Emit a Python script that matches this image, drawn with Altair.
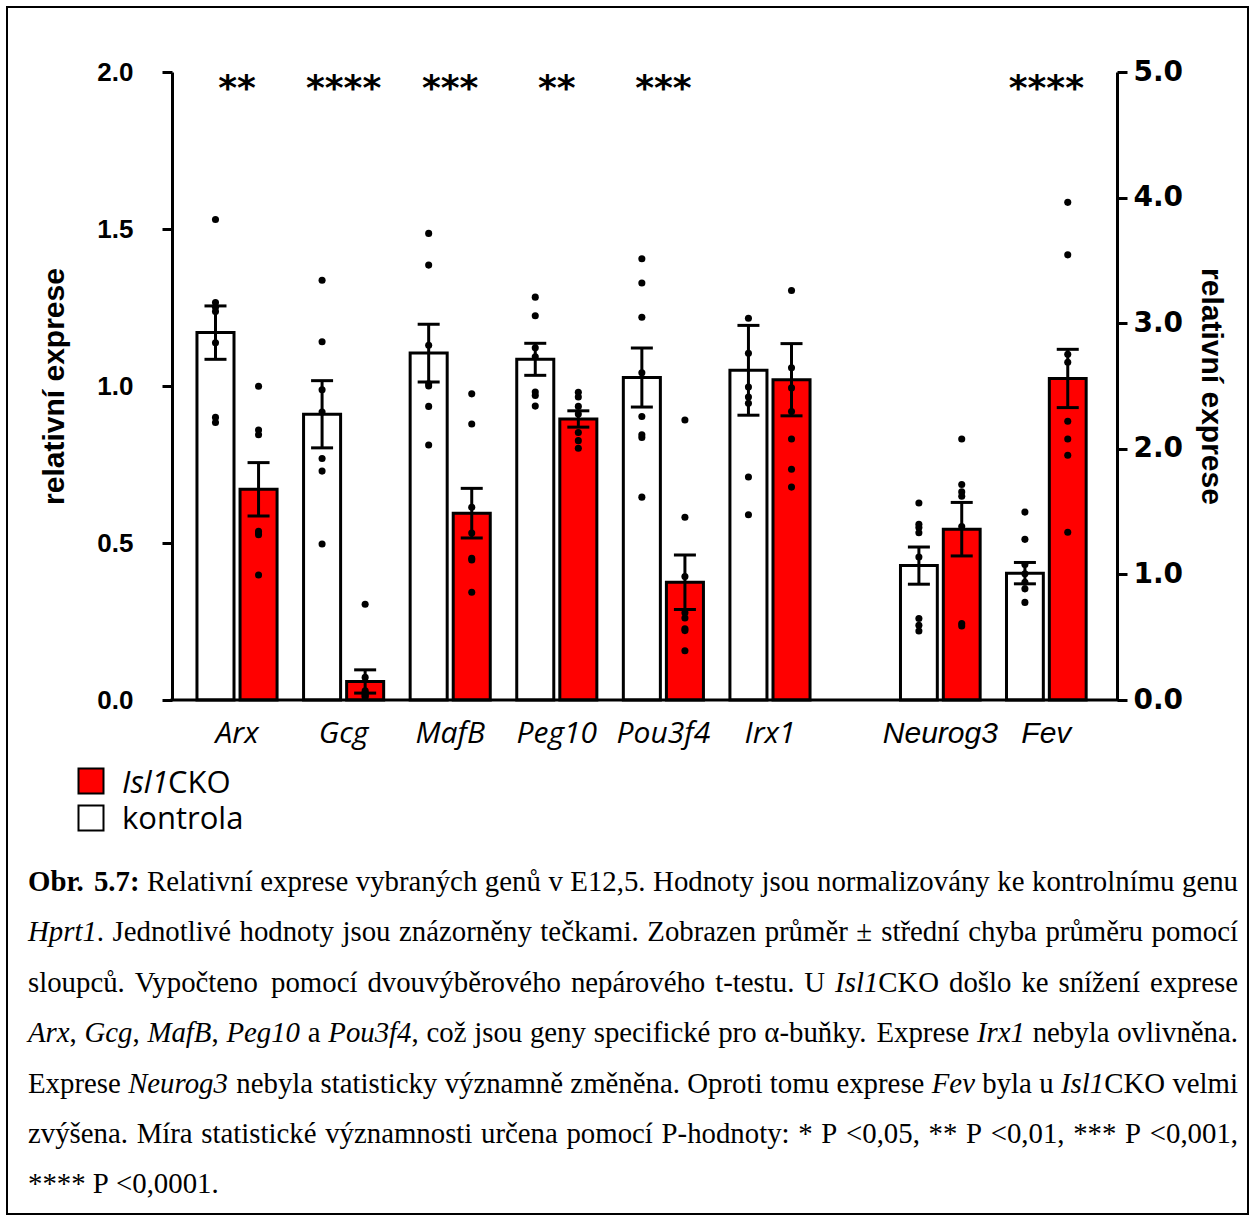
import re
import unicodedata
import altair as alt
import pandas as pd

# ---------------- data ----------------
GENES_LEFT = ["Arx", "Gcg", "MafB", "Peg10", "Pou3f4", "Irx1"]
GENES_RIGHT = ["Neurog3", "Fev"]
GENES = GENES_LEFT + GENES_RIGHT
GROUPS = ["kontrola", "Isl1CKO"]

CTRL_MEAN = [1.17, 0.91, 1.105, 1.085, 1.027, 1.05, 1.07, 1.01]
CTRL_SEM = [0.085, 0.107, 0.092, 0.051, 0.094, 0.143, 0.148, 0.085]
CKO_MEAN = [0.671, 0.059, 0.595, 0.895, 0.375, 1.02, 1.36, 2.56]
CKO_SEM = [0.085, 0.037, 0.079, 0.026, 0.087, 0.115, 0.213, 0.232]

CTRL_POINTS = {
    "Arx": [1.53, 1.266, 1.251, 1.237, 1.138, 0.90, 0.884],
    "Gcg": [1.337, 1.141, 0.988, 0.917, 0.769, 0.729, 0.497],
    "MafB": [1.486, 1.385, 1.130, 1.007, 1.0, 0.935, 0.812],
    "Peg10": [1.283, 1.224, 1.122, 1.093, 0.981, 0.970, 0.936],
    "Pou3f4": [1.405, 1.328, 1.219, 1.042, 0.903, 0.845, 0.836, 0.646],
    "Irx1": [1.216, 1.104, 0.997, 0.965, 0.945, 0.710, 0.590],
    "Neurog3": [1.568, 1.399, 1.373, 1.332, 1.139, 0.649, 0.595, 0.550],
    "Fev": [1.496, 1.279, 1.078, 1.005, 0.938, 0.885, 0.777],
}
CKO_POINTS = {
    "Arx": [0.999, 0.860, 0.845, 0.537, 0.532, 0.526, 0.398],
    "Gcg": [0.305, 0.072, 0.029, 0.024, 0.018, 0.013, 0.010],
    "MafB": [0.975, 0.879, 0.614, 0.532, 0.451, 0.446, 0.343],
    "Peg10": [0.980, 0.965, 0.935, 0.911, 0.852, 0.826, 0.802],
    "Pou3f4": [0.892, 0.582, 0.393, 0.278, 0.261, 0.227, 0.221, 0.157],
    "Irx1": [1.304, 1.058, 0.994, 0.919, 0.831, 0.735, 0.678],
    "Neurog3": [2.078, 1.716, 1.657, 1.622, 1.381, 0.609, 0.590],
    "Fev": [3.962, 3.544, 2.753, 2.689, 2.220, 2.078, 1.949, 1.335],
}
STARS = ["**", "****", "***", "**", "***", "", "", "****"]

LEFT_TICKS = [0, 0.5, 1.0, 1.5, 2.0]
RIGHT_TICKS = [0, 1, 2, 3, 4, 5]
AXIS_TITLE = "relativní exprese"

CAPTION = [
    "<b>Obr. 5.7:</b> Relativní exprese vybraných genů v E12,5. Hodnoty jsou normalizovány ke kontrolnímu genu",
    "<i>Hprt1</i>. Jednotlivé hodnoty jsou znázorněny tečkami. Zobrazen průměr ± střední chyba průměru pomocí",
    "sloupců. Vypočteno pomocí dvouvýběrového nepárového t-testu. U <i>Isl1</i>CKO došlo ke snížení exprese",
    "<i>Arx</i>, <i>Gcg</i>, <i>MafB</i>, <i>Peg10</i> a <i>Pou3f4</i>, což jsou geny specifické pro α-buňky. Exprese <i>Irx1</i> nebyla ovlivněna.",
    "Exprese <i>Neurog3</i> nebyla statisticky významně změněna. Oproti tomu exprese <i>Fev</i> byla u <i>Isl1</i>CKO velmi",
    "zvýšena. Míra statistické významnosti určena pomocí P-hodnoty: * P <0,05, ** P  <0,01, *** P <0,001,",
    "**** P <0,0001.",
]

# ---------------- layout constants ----------------
W, H = 945, 628
OX, OY = 172, 72  # page position of plot origin
RED = "#ff0000"

# ---------------- helpers ----------------
def summary(genes):
    rows = []
    for g in genes:
        i = GENES.index(g)
        rows.append(dict(gene=g, group="kontrola", mean=CTRL_MEAN[i],
                         lo=CTRL_MEAN[i] - CTRL_SEM[i], hi=CTRL_MEAN[i] + CTRL_SEM[i]))
        rows.append(dict(gene=g, group="Isl1CKO", mean=CKO_MEAN[i],
                         lo=CKO_MEAN[i] - CKO_SEM[i], hi=CKO_MEAN[i] + CKO_SEM[i]))
    return pd.DataFrame(rows)


def caps(genes):
    s = summary(genes)
    a = s[["gene", "group", "lo"]].rename(columns={"lo": "cap"})
    b = s[["gene", "group", "hi"]].rename(columns={"hi": "cap"})
    return pd.concat([a, b], ignore_index=True)


def points(genes):
    rows = []
    for g in genes:
        for v in CTRL_POINTS[g]:
            rows.append(dict(gene=g, group="kontrola", value=v))
        for v in CKO_POINTS[g]:
            rows.append(dict(gene=g, group="Isl1CKO", value=v))
    return pd.DataFrame(rows)


def panel(genes, xscale, yscale, yaxis, label_font):
    X = alt.X("gene:N", scale=xscale, axis=None)
    XO = alt.XOffset("group:N", scale=alt.Scale(domain=GROUPS, paddingInner=0.14, paddingOuter=0.06))
    summ = summary(genes)
    bars = alt.Chart(summ).mark_bar(stroke="black", strokeWidth=3).encode(
        x=X, xOffset=XO,
        y=alt.Y("mean:Q", scale=yscale, axis=yaxis),
        color=alt.Color("group:N", scale=alt.Scale(domain=GROUPS, range=["#ffffff", RED]), legend=None),
    )
    rules = alt.Chart(summ).mark_rule(color="black", strokeWidth=3).encode(
        x=X, xOffset=XO, y=alt.Y("lo:Q", scale=yscale, axis=yaxis), y2="hi:Q")
    ticks = alt.Chart(caps(genes)).mark_tick(color="black", thickness=3, size=22, opacity=1).encode(
        x=X, xOffset=XO, y=alt.Y("cap:Q", scale=yscale, axis=yaxis))
    dots = alt.Chart(points(genes)).mark_circle(color="black", size=50, opacity=1).encode(
        x=X, xOffset=XO, y=alt.Y("value:Q", scale=yscale, axis=yaxis))
    lab_df = pd.DataFrame({"gene": genes, "stars": [STARS[GENES.index(g)] for g in genes]})
    stars = alt.Chart(lab_df).mark_text(font="DejaVu Sans", fontWeight="bold", fontSize=36,
                                        baseline="alphabetic", color="black").encode(
        x=X, y=alt.value(28), text="stars:N")
    labels = alt.Chart(lab_df).mark_text(font=label_font, fontStyle="italic", fontSize=30,
                                         baseline="alphabetic", color="black").encode(
        x=X, y=alt.value(671), text="gene:N")
    return alt.layer(bars, rules, ticks, dots, stars, labels)


axis_common = dict(
    format=".1f", grid=False, domainColor="black", domainWidth=3,
    tickColor="black", tickWidth=3, tickSize=10,
    labelColor="black", labelFontWeight="bold",
    title=AXIS_TITLE, titleFont="Liberation Sans", titleFontWeight="bold",
    titleFontSize=30, titleColor="black", titleAlign="center", titleBaseline="middle",
    titleY=H / 2,
)
left_axis = alt.Axis(values=LEFT_TICKS, orient="left", labelFont="Liberation Sans",
                     labelFontSize=26, labelPadding=29, titleAngle=270, titleX=-118,
                     **axis_common)
right_axis = alt.Axis(values=RIGHT_TICKS, orient="right", labelFont="DejaVu Sans",
                      labelFontSize=28, labelPadding=6, titleAngle=90, titleX=93,
                      **axis_common)

left_panel = panel(
    GENES_LEFT,
    alt.Scale(domain=GENES_LEFT, range=[0, 663], paddingInner=0.2, paddingOuter=0.21),
    alt.Scale(domain=[0, 2], nice=False, zero=True),
    left_axis, "Open Sans",
)
right_panel = panel(
    GENES_RIGHT,
    alt.Scale(domain=GENES_RIGHT, range=[663, W], paddingInner=0.2, paddingOuter=0.43, align=0.69),
    alt.Scale(domain=[0, 5], nice=False, zero=True),
    right_axis, "Liberation Sans",
)

one = alt.Data(values=[{"k": 1}])
x_line = alt.Chart(one).mark_rule(color="black", strokeWidth=3).encode(
    x=alt.value(-1.5), x2=alt.value(W + 1.5), y=alt.value(H))
border = alt.Chart(one).mark_rect(fillOpacity=0, stroke="black", strokeWidth=2).encode(
    x=alt.value(7 - OX), x2=alt.value(1248 - OX), y=alt.value(7 - OY), y2=alt.value(1214 - OY))

# legend (manual, because the label mixes italic and upright text)
leg_red = alt.Chart(one).mark_square(size=625, fill=RED, stroke="black", strokeWidth=2, opacity=1).encode(
    x=alt.value(91 - OX), y=alt.value(781 - OY))
leg_white = alt.Chart(one).mark_square(size=625, fill="white", stroke="black", strokeWidth=2, opacity=1).encode(
    x=alt.value(91 - OX), y=alt.value(818 - OY))
leg_isl = alt.Chart(one).mark_text(text="Isl1", font="Open Sans", fontStyle="italic", fontSize=31,
                                   align="left", baseline="alphabetic", color="black").encode(
    x=alt.value(122 - OX), y=alt.value(793 - OY))
leg_cko = alt.Chart(one).mark_text(text="CKO", font="Open Sans", fontSize=31,
                                   align="left", baseline="alphabetic", color="black").encode(
    x=alt.value(168 - OX), y=alt.value(793 - OY))
leg_ctrl = alt.Chart(one).mark_text(text="kontrola", font="Open Sans", fontSize=31,
                                    align="left", baseline="alphabetic", color="black").encode(
    x=alt.value(122 - OX), y=alt.value(829 - OY))

# ---------------- caption (justified, mixed styles) ----------------
def width_table(groups):
    t = {}
    for chars, w in groups:
        for c in chars:
            t[c] = w
    return t

REG = width_table([(" ,.", 250), ("ijlt:;/", 278), ("frI-()!", 333), ("sJ", 389), ("acez?", 444),
                   ("bdghknopquvxy0123456789*", 500), ("α", 540), ("PSF", 556), ("<>=+±", 564),
                   ("ETLZ", 611), ("BCR", 667), ("ADGHKNOQUVXYw", 722), ("m&", 778), ("M", 889), ("W", 944)])
ITA = width_table([(" ,.", 250), ("fijlt:", 278), ("I-", 333), ("rsz", 389), ("cekvxy", 444),
                   ("abdghnopqu0123456789", 500), ("ABEFP", 611), ("CN", 667), ("DGH", 722),
                   ("m", 722), ("M", 833)])
BLD = width_table([(" .", 250), (":", 333), ("r", 444), ("0123456789", 500), ("b", 556), ("O", 778)])
TABLES = {"n": REG, "i": ITA, "b": BLD}
CAP_SIZE = 28.8


def char_w(ch, style):
    base = unicodedata.normalize("NFD", ch)[0]
    t = TABLES[style]
    return t.get(ch, t.get(base, REG.get(base, 500))) * CAP_SIZE / 1000.0


def parse(line):
    chars, style = [], "n"
    for part in re.split(r"(</?[bi]>)", line):
        if part in ("<b>", "<i>"):
            style = part[1]
            continue
        if part in ("</b>", "</i>"):
            style = "n"
            continue
        for ch in part:
            chars.append((ch, style))
    words, cur = [], []
    for ch, s in chars:
        if ch == " ":
            if cur:
                words.append(cur)
                cur = []
        else:
            cur.append((ch, s))
    if cur:
        words.append(cur)
    out = []
    for w in words:
        runs = []
        for ch, s in w:
            if runs and runs[-1][1] == s:
                runs[-1][0] += ch
            else:
                runs.append([ch, s])
        out.append(runs)
    return out


CAP_LEFT, CAP_RIGHT = 28, 1238
CAP_BASE0, CAP_STEP = 891, 50.4
cap_rows = []
for li, line in enumerate(CAPTION):
    words = parse(line)
    widths = [sum(char_w(c, r[1]) for r in w for c in r[0]) for w in words]
    if li < len(CAPTION) - 1 and len(words) > 1:
        gap = (CAP_RIGHT - CAP_LEFT - sum(widths)) / (len(words) - 1)
    else:
        gap = 250 * CAP_SIZE / 1000.0
    x = CAP_LEFT
    y = CAP_BASE0 + li * CAP_STEP
    for w, wd in zip(words, widths):
        rx = x
        for txt, s in w:
            cap_rows.append(dict(t=txt, s=s, px=rx - OX, py=y - OY))
            rx += sum(char_w(c, s) for c in txt)
        x += wd + gap
cap_df = pd.DataFrame(cap_rows)


def cap_layer(style, fstyle, fweight):
    return alt.Chart(cap_df).transform_filter(alt.datum.s == style).mark_text(
        font="Liberation Serif", fontStyle=fstyle, fontWeight=fweight, fontSize=CAP_SIZE,
        align="left", baseline="alphabetic", color="black").encode(
        x=alt.X("px:Q", scale=None, axis=None),
        y=alt.Y("py:Q", scale=None, axis=None),
        text="t:N")


caption = alt.layer(cap_layer("n", "normal", "normal"),
                    cap_layer("i", "italic", "normal"),
                    cap_layer("b", "normal", "bold"))

chart = alt.layer(
    left_panel, right_panel, x_line, border,
    leg_red, leg_white, leg_isl, leg_cko, leg_ctrl, caption,
).resolve_scale(
    x="independent", y="independent", xOffset="independent"
).properties(
    width=W, height=H,
    padding={"left": OX, "top": OY, "right": 1255 - OX - W, "bottom": 1221 - OY - H},
    autosize=alt.AutoSizeParams(type="none"),
    background="white",
).configure_view(stroke=None)

chart.save("out.html", embed_options={"renderer": "svg", "actions": False})
